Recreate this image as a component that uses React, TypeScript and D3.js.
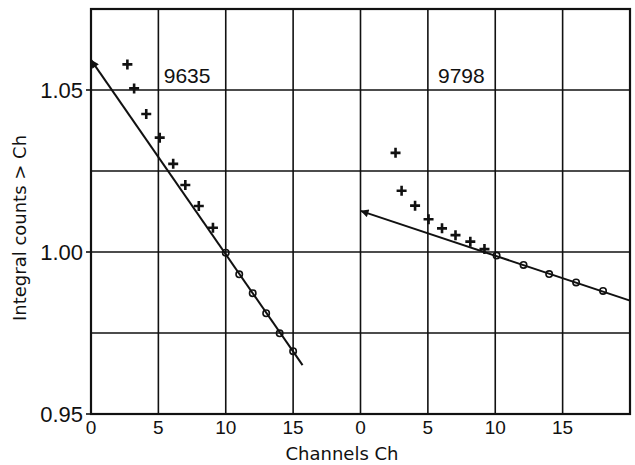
import React, { useRef, useEffect } from 'react';
import * as d3 from 'd3';

// run numbers, one panel each (left, right)
const panelNames = ['9635', '9798'];
const xTickValues = [0, 5, 10, 15];
const yTickValues = [0.95, 1.0, 1.05];
const yGridValues = [0.975, 1.025];

// run 9635
const plusCh9635 = [2.7, 3.2, 4.1, 5.1, 6.1, 7.0, 8.0, 9.05];
const plusVal9635 = [1.0579, 1.0505, 1.0426, 1.0353, 1.0272, 1.0207, 1.0142, 1.0075];
const circCh9635 = [10, 11, 12, 13, 14, 15];
const circVal9635 = [0.9998, 0.9931, 0.9873, 0.9811, 0.9749, 0.9694];
const fitCh9635 = [0, 15.7];
const fitVal9635 = [1.0593, 0.9651];

// run 9798
const plusCh9798 = [2.6, 3.05, 4.05, 5.05, 6.05, 7.05, 8.15, 9.2];
const plusVal9798 = [1.0306, 1.0189, 1.0143, 1.0101, 1.0073, 1.0052, 1.0032, 1.0009];
const circCh9798 = [10.1, 12.1, 14, 16, 18];
const circVal9798 = [0.9989, 0.996, 0.9932, 0.9906, 0.988];
const fitCh9798 = [0, 20];
const fitVal9798 = [1.0127, 0.985];

const runs = [
  { plusCh: plusCh9635, plusVal: plusVal9635, circCh: circCh9635, circVal: circVal9635, fitCh: fitCh9635, fitVal: fitVal9635 },
  { plusCh: plusCh9798, plusVal: plusVal9798, circCh: circCh9798, circVal: circVal9798, fitCh: fitCh9798, fitVal: fitVal9798 },
];

const ink = '#111';

const App = () => {
  const chartRef = useRef<SVGSVGElement>(null);

  useEffect(() => {
    const svg = d3.select(chartRef.current);
    svg.selectAll('*').remove();

    const panelSpan = 20;
    const x = d3.scaleLinear().domain([0, 2 * panelSpan]).range([91, 630]);
    const y = d3.scaleLinear().domain([0.95, 1.075]).range([414, 9]);

    svg.append('rect').attr('width', 635).attr('height', 465).attr('fill', '#fff');

    // arrow head for the start of the fitted lines
    svg.append('defs').append('marker')
      .attr('id', 'arrow')
      .attr('viewBox', '0 0 10 10')
      .attr('refX', 10).attr('refY', 5)
      .attr('markerWidth', 10).attr('markerHeight', 8)
      .attr('markerUnits', 'userSpaceOnUse')
      .attr('orient', 'auto-start-reverse')
      .append('path')
      .attr('d', 'M0,0L10,5L0,10z')
      .attr('fill', ink);

    const grid = svg.append('g').attr('stroke', ink).attr('stroke-width', 1.6);

    // vertical grid: each panel gets lines at 0,5,10,15
    panelNames.forEach((_, p) => {
      xTickValues.forEach(t => {
        grid.append('line')
          .attr('x1', x(p * panelSpan + t)).attr('x2', x(p * panelSpan + t))
          .attr('y1', y.range()[0]).attr('y2', y.range()[1]);
      });
    });

    // horizontal grid
    [...yTickValues, ...yGridValues].forEach(v => {
      grid.append('line')
        .attr('x1', x(0)).attr('x2', x(2 * panelSpan))
        .attr('y1', y(v)).attr('y2', y(v));
    });

    // frame
    svg.append('rect')
      .attr('x', x(0)).attr('y', y(1.075))
      .attr('width', x(2 * panelSpan) - x(0))
      .attr('height', y(0.95) - y(1.075))
      .attr('fill', 'none').attr('stroke', ink).attr('stroke-width', 2.2);

    // y ticks + labels
    yTickValues.forEach(v => {
      svg.append('line')
        .attr('x1', x(0) - 5).attr('x2', x(0))
        .attr('y1', y(v)).attr('y2', y(v))
        .attr('stroke', ink).attr('stroke-width', 1.6);
      svg.append('text')
        .attr('x', x(0) - 8).attr('y', y(v))
        .attr('text-anchor', 'end')
        .attr('dominant-baseline', 'central')
        .attr('font-family', 'Liberation Sans, Arial, sans-serif')
        .attr('font-size', 22)
        .attr('fill', ink)
        .text(d3.format('.2f')(v));
    });

    // x tick labels, restarting at 0 for each panel
    panelNames.forEach((_, p) => {
      xTickValues.forEach(t => {
        svg.append('text')
          .attr('x', x(p * panelSpan + t)).attr('y', 434)
          .attr('text-anchor', 'middle')
          .attr('font-family', 'Liberation Sans, Arial, sans-serif')
          .attr('font-size', 19)
          .attr('fill', ink)
          .text(t);
      });
    });

    // axis titles
    svg.append('text')
      .attr('x', 342).attr('y', 460)
      .attr('text-anchor', 'middle')
      .attr('font-family', 'DejaVu Sans, sans-serif')
      .attr('font-size', 18)
      .attr('fill', ink)
      .text('Channels Ch');

    svg.append('text')
      .attr('transform', 'translate(26,228) rotate(-90)')
      .attr('text-anchor', 'middle')
      .attr('font-family', 'DejaVu Sans, sans-serif')
      .attr('font-size', 18)
      .attr('fill', ink)
      .text('Integral counts > Ch');

    const line = d3.line<[number, number]>()
      .x(d => x(d[0]))
      .y(d => y(d[1]));

    const labelCh = [5.4, 5.75];

    runs.forEach((r, p) => {
      const off = p * panelSpan;
      const g = svg.append('g');

      // fitted line
      g.append('path')
        .datum(r.fitCh.map((c, i) => [c + off, r.fitVal[i]] as [number, number]))
        .attr('d', line)
        .attr('fill', 'none')
        .attr('stroke', ink)
        .attr('stroke-width', 2)
        .attr('marker-start', 'url(#arrow)');

      // crosses
      g.selectAll('.plus')
        .data(r.plusCh.map((c, i) => [c + off, r.plusVal[i]]))
        .join('path')
        .attr('class', 'plus')
        .attr('transform', d => `translate(${x(d[0])},${y(d[1])})`)
        .attr('d', 'M-5,0H5M0,-5V5')
        .attr('stroke', ink)
        .attr('stroke-width', 2.6);

      // circles
      g.selectAll('.circ')
        .data(r.circCh.map((c, i) => [c + off, r.circVal[i]]))
        .join('circle')
        .attr('class', 'circ')
        .attr('cx', d => x(d[0]))
        .attr('cy', d => y(d[1]))
        .attr('r', 3.2)
        .attr('fill', 'none')
        .attr('stroke', ink)
        .attr('stroke-width', 1.6);

      // run label
      g.append('text')
        .attr('x', x(off + labelCh[p])).attr('y', 83)
        .attr('font-family', 'Liberation Sans, Arial, sans-serif')
        .attr('font-size', 21)
        .attr('fill', ink)
        .text(panelNames[p]);
    });
  }, []);

  return (
    <svg ref={chartRef} width={635} height={465} style={{ position: 'absolute', left: 0, top: 0 }}></svg>
  );
};

export default App;
